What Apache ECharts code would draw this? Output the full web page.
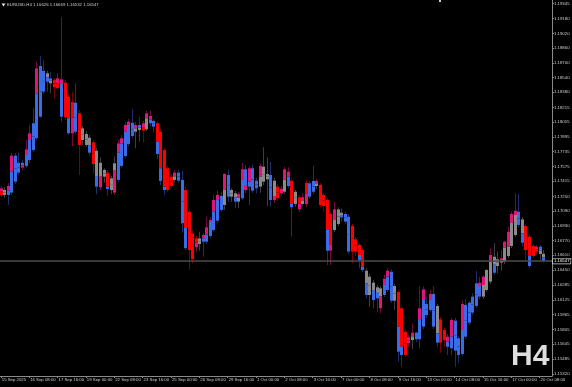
<!DOCTYPE html>
<html><head><meta charset="utf-8">
<script src="https://cdn.jsdelivr.net/npm/echarts@6/dist/echarts.min.js"></script>
<style>html,body{margin:0;padding:0;background:#000;overflow:hidden}#c{width:572px;height:387px}</style>
</head><body><div id="c"></div>
<script>
const chartTitle = 'EURUSD,H4 1.16626 1.16669 1.16532 1.16547';
const timeframeLabel = 'H4';
const xTickLabels = ['15 Sep 2025','16 Sep 08:00','17 Sep 16:00','19 Sep 00:00','22 Sep 08:00','23 Sep 16:00','25 Sep 00:00','26 Sep 08:00','29 Sep 16:00','1 Oct 00:00','2 Oct 08:00','3 Oct 16:00','7 Oct 00:00','8 Oct 08:00','9 Oct 16:00','13 Oct 00:00','14 Oct 08:00','15 Oct 16:00','17 Oct 00:00','20 Oct 08:00'];
const priceTicks = [1.19345,1.19180,1.19020,1.18860,1.18700,1.18540,1.18380,1.18215,1.18055,1.17895,1.17735,1.17575,1.17415,1.17250,1.17090,1.16930,1.16770,1.16610,1.16450,1.16285,1.16125,1.15965,1.15805,1.15645,1.15485,1.15320];
const priceMin = 1.15298, priceMax = 1.19383;

const open = [1.17337,1.17319,1.17265,1.17290,1.17409,1.17507,1.17561,1.17580,1.17645,1.17753,
1.17881,1.18115,1.18387,1.18587,1.18532,1.18514,1.18424,1.18521,1.18485,1.18332,
1.18275,1.17952,1.18152,1.17989,1.17927,1.17887,1.17837,1.17746,1.17348,1.17536,
1.17507,1.17319,1.17290,1.17428,1.17580,1.17688,1.17819,1.18050,1.18025,1.17971,
1.17963,1.17978,1.18123,1.18069,1.18044,1.17952,1.17753,1.17555,1.17463,1.17428,
1.17507,1.17428,1.17319,1.17083,1.16848,1.16696,1.16794,1.16757,1.16757,1.16819,
1.16884,1.16985,1.17254,1.17156,1.17482,1.17319,1.17283,1.17192,1.17229,1.17544,
1.17355,1.17555,1.17420,1.17355,1.17572,1.17493,1.17482,1.17210,1.17355,1.17283,
1.17300,1.17518,1.17420,1.17300,1.17240,1.17167,1.17167,1.17392,1.17300,1.17417,
1.17373,1.17265,1.17210,1.16659,1.16884,1.17109,1.17022,1.17058,1.17029,1.16928,
1.16783,1.16721,1.16667,1.16442,1.16377,1.16312,1.16262,1.16034,1.16178,1.16232,
1.16431,1.16276,1.16211,1.16034,1.15779,1.15653,1.15689,1.15769,1.15697,1.15834,
1.16080,1.16015,1.16189,1.16059,1.15914,1.15798,1.15616,1.15599,1.15899,1.15708,
1.15537,1.16070,1.15877,1.15986,1.16059,1.16312,1.16160,1.16232,1.16323,1.16594,
1.16566,1.16529,1.16540,1.16602,1.16711,1.16830,1.17083,1.17000,1.16928,1.16812,
1.16711,1.16649,1.16703,1.16626];
const high = [1.17362,1.17351,1.17395,1.17721,1.17721,1.17721,1.17645,1.17862,1.18025,1.18210,
1.18713,1.18778,1.18731,1.18612,1.18604,1.18536,1.18587,1.19195,1.18514,1.18362,
1.18387,1.18478,1.18188,1.18014,1.17960,1.17916,1.17862,1.17775,1.17674,1.17555,
1.17536,1.17471,1.17681,1.17862,1.17916,1.18058,1.18090,1.18196,1.18058,1.18115,
1.18069,1.18180,1.18180,1.18090,1.18069,1.17982,1.17775,1.17580,1.17493,1.17536,
1.17536,1.17525,1.17351,1.17112,1.16873,1.16819,1.16866,1.16852,1.17029,1.17026,
1.17265,1.17319,1.17300,1.17500,1.17536,1.17337,1.17308,1.17297,1.17609,1.17590,
1.17580,1.17598,1.17449,1.17601,1.17783,1.17674,1.17626,1.17449,1.17384,1.17362,
1.17572,1.17566,1.17449,1.17319,1.17265,1.17283,1.17428,1.17417,1.17583,1.17438,
1.17395,1.17286,1.17232,1.17080,1.17192,1.17131,1.17120,1.17080,1.17058,1.16950,
1.16808,1.16743,1.16689,1.16471,1.16406,1.16341,1.16287,1.16276,1.16395,1.16468,
1.16457,1.16298,1.16232,1.16059,1.15809,1.15744,1.15871,1.15779,1.16276,1.16268,
1.16160,1.16232,1.16276,1.16080,1.15939,1.15820,1.15754,1.15928,1.15928,1.15733,
1.16116,1.16131,1.16116,1.16197,1.16442,1.16377,1.16395,1.16457,1.16686,1.16740,
1.16649,1.16667,1.16768,1.16920,1.17083,1.17283,1.17275,1.17026,1.16950,1.16841,
1.16732,1.16721,1.16721,1.16669];
const low = [1.17243,1.17232,1.17156,1.17265,1.17384,1.17482,1.17536,1.17558,1.17612,1.17732,
1.17862,1.18101,1.18362,1.18387,1.18369,1.18315,1.18405,1.18061,1.18079,1.17916,
1.17797,1.17927,1.17482,1.17808,1.17786,1.17692,1.17500,1.17272,1.17319,1.17398,
1.17254,1.17275,1.17265,1.17406,1.17558,1.17667,1.17797,1.17884,1.17772,1.17844,
1.17833,1.17960,1.18014,1.17941,1.17652,1.17373,1.17265,1.17297,1.17341,1.17398,
1.17395,1.16855,1.16667,1.16450,1.16523,1.16649,1.16659,1.16594,1.16732,1.16797,
1.16863,1.16960,1.17080,1.17102,1.17192,1.17192,1.17120,1.17120,1.17210,1.17286,
1.17156,1.17286,1.17283,1.17290,1.17373,1.17145,1.17137,1.17178,1.17199,1.17254,
1.17275,1.17341,1.16812,1.17137,1.17080,1.17145,1.17131,1.17221,1.17275,1.17330,
1.17134,1.17083,1.16504,1.16504,1.16863,1.16928,1.16975,1.16950,1.16624,1.16526,
1.16602,1.16468,1.16428,1.16142,1.16051,1.16034,1.15997,1.15979,1.16156,1.16211,
1.16091,1.16015,1.15453,1.15399,1.15505,1.15616,1.15588,1.15668,1.15599,1.15809,
1.15928,1.15993,1.15809,1.15616,1.15551,1.15616,1.15526,1.15526,1.15399,1.15443,
1.15515,1.15700,1.15852,1.15961,1.16037,1.16135,1.16135,1.16211,1.16298,1.16395,
1.16414,1.16442,1.16515,1.16580,1.16689,1.16808,1.16917,1.16711,1.16558,1.16471,
1.16580,1.16624,1.16558,1.16532];
const close = [1.17265,1.17265,1.17362,1.17692,1.17692,1.17615,1.17615,1.17761,1.17935,1.18044,
1.18641,1.18666,1.18615,1.18495,1.18478,1.18435,1.18532,1.18115,1.18109,1.17935,
1.17935,1.18267,1.17808,1.17862,1.17808,1.17724,1.17601,1.17355,1.17615,1.17463,
1.17330,1.17446,1.17609,1.17826,1.17881,1.18025,1.18061,1.17906,1.17952,1.18025,
1.18044,1.18152,1.18044,1.18007,1.17710,1.17417,1.17319,1.17319,1.17362,1.17507,
1.17420,1.16957,1.16686,1.16667,1.16566,1.16794,1.16732,1.16830,1.16914,1.16993,
1.17210,1.17265,1.17102,1.17493,1.17246,1.17246,1.17192,1.17275,1.17544,1.17319,
1.17555,1.17311,1.17337,1.17580,1.17409,1.17435,1.17210,1.17420,1.17229,1.17333,
1.17544,1.17362,1.17131,1.17167,1.17109,1.17240,1.17398,1.17246,1.17417,1.17362,
1.17156,1.17145,1.16659,1.17058,1.17109,1.16950,1.17072,1.16975,1.16649,1.16649,
1.16649,1.16558,1.16450,1.16178,1.16178,1.16124,1.16142,1.16251,1.16355,1.16442,
1.16116,1.16116,1.15562,1.15526,1.15526,1.15719,1.15769,1.15697,1.16034,1.16240,
1.15961,1.16189,1.15834,1.15660,1.15660,1.15689,1.15725,1.15907,1.15573,1.15526,
1.16080,1.15725,1.16095,1.16160,1.16305,1.16160,1.16377,1.16450,1.16613,1.16420,
1.16493,1.16577,1.16757,1.16866,1.17058,1.17094,1.16939,1.16746,1.16667,1.16493,
1.16602,1.16703,1.16624,1.16547];
// price where a candle body changes shade (bar index, price)
const splitPoints = [[3,1.17518],[7,1.17699],[8,1.17862],[10,1.18369],[17,1.18470],[19,1.18098],[27,1.17471],[28,1.17463],[30,1.17355],[32,1.17536],[33,1.17724],[34,1.17826],[35,1.17952],[36,1.18025],[41,1.18098],[44,1.17844],[45,1.17555],[46,1.17355],[52,1.16906],[59,1.16971],[60,1.17083],[61,1.17210],[63,1.17319],[68,1.17428],[69,1.17373],[70,1.17409],[73,1.17463],[77,1.17254],[80,1.17428],[81,1.17463],[82,1.17174],[92,1.16892],[93,1.16721],[94,1.16993],[101,1.16613],[102,1.16486],[103,1.16305],[105,1.16232],[107,1.16160],[108,1.16287],[109,1.16377],[112,1.15834],[113,1.15616],[118,1.15907],[119,1.16124],[121,1.16124],[123,1.15762],[127,1.15725],[130,1.15798],[135,1.16276],[136,1.16287],[138,1.16537],[142,1.16689],[143,1.16703],[144,1.16960],[145,1.17047],[147,1.16848],[149,1.16602]];
// shade class of each candle body: upper part / lower part (b blue, r red, p pink, g grey)
const tones = ['pr','gg','pb','pb','bb','bb','bp','pb','pb','bb','pb','bb','bb','gb','bg','rr','pr','pb','rr','rb',
'rp','bb','rr','gg','gg','gb','rr','gb','gp','gg','rb','gg','gp','pb','pb','pb','pb','bb','pg','bg',
'pr','pg','pb','bb','rb','rb','rb','rr','rr','pg','bb','bb','rb','rr','rr','rp','gg','pb','pb','pb',
'pb','pb','bb','pg','bb','gg','gb','pg','pb','bp','pb','bb','bb','pg','gg','gg','bb','gp','rr','pp',
'pg','pb','rb','gg','rp','pg','rp','bb','bb','pg','rr','rr','rb','rp','pg','gg','gb','bb','bb','rr',
'rr','rb','rb','gb','gg','gb','gb','gp','pb','pb','bb','gg','rb','rb','rr','pp','pg','bb','pb','pb',
'bb','pb','bb','gb','rr','rr','pb','pb','bb','bb','pb','bb','bb','bb','bb','pb','pg','gg','pg','gb',
'gg','pg','pg','pg','pg','pg','bb','gb','rr','rb','rr','pr','bg','gb'];

const bodyColor = {b:'#3a6cea', r:'#ff0000', p:'#df1679', g:'#8a8a8a'};
const wickColor = {b:'#1d2e6a', r:'#7d0000', p:'#6e0c3c', g:'#3e3e3e'};

const splitMap = {};
splitPoints.forEach(([i, v]) => { splitMap[i] = v; });
const slotCount = open.length + 2;
const categories = Array.from({length: slotCount}, (_, i) => String(i));
const seriesData = open.map((o, i) => [i, o, close[i], low[i], high[i]]);
const lastPrice = close[close.length - 1];

function renderItem(params, api) {
  const i = api.value(0);
  const o = api.value(1), c = api.value(2), lo = api.value(3), hi = api.value(4);
  const top = Math.max(o, c), bot = Math.min(o, c);
  const pTop = api.coord([i, top]);
  const pBot = api.coord([i, bot]);
  const yHi = api.coord([i, hi])[1];
  const yLo = api.coord([i, lo])[1];
  const cx = Math.round(pTop[0]);
  const t = tones[i] || 'gg';
  const sp = splitMap[i] != null ? splitMap[i] : (top + bot) / 2;
  const yT = pTop[1];
  const yB = Math.max(pBot[1], yT + 1);
  let ySp = api.coord([i, sp])[1];
  ySp = Math.min(Math.max(ySp, yT), yB);
  return {
    type: 'group',
    children: [
      {type: 'rect', shape: {x: cx, y: yHi, width: 1, height: Math.max(0, yT - yHi)}, style: {fill: wickColor[t[0]]}},
      {type: 'rect', shape: {x: cx, y: yB, width: 1, height: Math.max(0, yLo - yB)}, style: {fill: wickColor[t[1]]}},
      {type: 'rect', shape: {x: cx - 1, y: yT, width: 3, height: ySp - yT}, style: {fill: bodyColor[t[0]]}},
      {type: 'rect', shape: {x: cx - 1, y: ySp, width: 3, height: yB - ySp}, style: {fill: bodyColor[t[1]]}}
    ]
  };
}

const chart = echarts.init(document.getElementById('c'), null, {renderer: 'canvas'});
const small = {fontFamily: 'Liberation Sans', fontSize: 4.3, color: '#cfcfcf'};
chart.setOption({
  animation: false,
  backgroundColor: '#000000',
  grid: {left: -1, right: 20, top: 0, bottom: 11, outerBoundsMode: 'none'},
  xAxis: {
    type: 'category', data: categories, boundaryGap: true,
    axisLine: {show: true, lineStyle: {color: '#8a8a8a', width: 1}},
    axisTick: {show: true, alignWithLabel: true, length: 2, interval: (idx) => idx % 8 === 0, lineStyle: {color: '#8a8a8a'}},
    axisLabel: Object.assign({
      interval: (idx) => idx % 8 === 0 && idx / 8 < xTickLabels.length,
      formatter: (v, idx) => xTickLabels[Math.round(idx / 8)] || '',
      align: 'left', margin: 2, padding: [0, 0, 0, 1], hideOverlap: false
    }, small),
    splitLine: {show: false}
  },
  yAxis: {
    type: 'value', position: 'right', min: priceMin, max: priceMax, scale: true,
    axisLine: {show: true, lineStyle: {color: '#8a8a8a', width: 1}},
    axisTick: {show: true, length: 2, customValues: priceTicks, lineStyle: {color: '#8a8a8a'}},
    axisLabel: Object.assign({customValues: priceTicks, formatter: (v) => v.toFixed(5), margin: 2, showMinLabel: true, showMaxLabel: true}, small),
    splitLine: {show: false}
  },
  series: [{
    type: 'custom',
    renderItem: renderItem,
    data: seriesData,
    encode: {x: 0, y: [1, 2, 3, 4]},
    clip: true,
    z: 3
  }, {
    type: 'line',
    data: [],
    silent: true,
    z: 2,
    markLine: {
      silent: true, symbol: 'none', animation: false, precision: 5,
      lineStyle: {color: '#4c4c4c', width: 1.5, type: 'solid'},
      label: {show: true, position: 'end', distance: 1, formatter: () => lastPrice.toFixed(5),
        fontFamily: 'Liberation Sans', fontSize: 4.3, color: '#ffffff', backgroundColor: '#000000',
        borderColor: '#e0e0e0', borderWidth: 0.6, padding: [1, 1, 0, 1]},
      data: [{yAxis: lastPrice}]
    }
  }],
  graphic: [
    {type: 'polygon', shape: {points: [[1.5, 3.5], [5.5, 3.5], [3.5, 6.5]]}, style: {fill: '#e8e8e8'}},
    {type: 'text', left: 7, top: 3, style: {text: chartTitle, font: '4.3px "Liberation Sans"', fill: '#cfcfcf'}},
    {type: 'rect', shape: {x: 439, y: 0, width: 2, height: 2}, style: {fill: '#d0d0d0'}},
    {type: 'text', left: 511, top: 342, style: {text: timeframeLabel, font: 'bold 30px "Liberation Sans"', fill: '#dedede'}}
  ]
});
</script>
</body></html>
